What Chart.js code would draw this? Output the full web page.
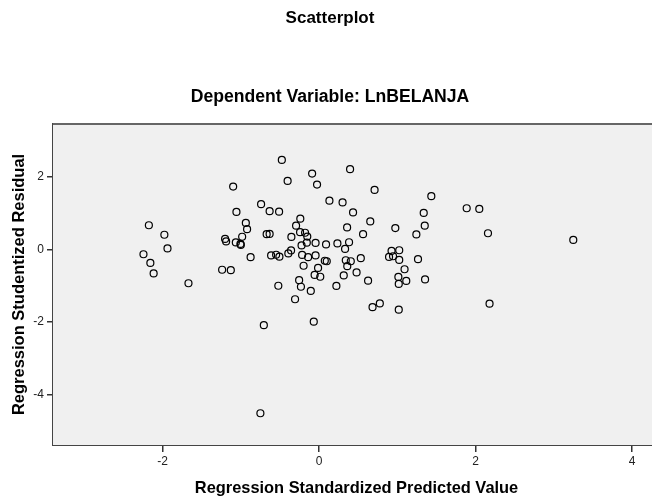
<!DOCTYPE html>
<html>
<head>
<meta charset="utf-8">
<script src="https://cdn.jsdelivr.net/npm/chart.js@4"></script>
<style>
  html, body { margin: 0; padding: 0; background: #ffffff; overflow: hidden; }
  #wrap { width: 660px; height: 499px; position: relative; }
  canvas { display: block; }
</style>
</head>
<body>
<div id="wrap"><canvas id="c" width="660" height="499"></canvas></div>
<script>
// Regression Standardized Predicted Value (x)
const predicted = [
  -0.476, -0.089, 0.396, -1.098, -0.402, -0.026, 0.709, 0.132, 0.300, -0.741,
  -0.632, -0.511, 0.434, -1.056, -0.240, -0.936, 0.654, -0.294, -0.920, 0.358,
  0.974, -0.243, -0.179, -0.670, -0.632, 0.562, 1.243, -0.983, -0.354, -0.151,
  -1.201, -1.188, -1.064, -1.005, -1.000, -0.045, 0.089, 0.234, 0.383, -0.224,
  -0.157, 0.332, -0.358, -0.393, -0.875, -0.613, -0.549, -0.507, -0.217, -0.140,
  -0.045, 0.073, 0.098, 0.341, 0.405, 0.533, 0.360, 0.926, 1.024, 0.894,
  0.945, 1.024, 1.264, -0.198, -0.013, 1.092, -1.239, -1.128, 0.479, -0.057,
  0.015, 0.315, 1.013, 1.018, 1.114, 0.626, -0.521, -0.255, -0.232, -0.106,
  0.221, -0.307, 0.683, 0.776, 1.018, -0.706, -0.068, -0.750, 2.178, 1.434,
  1.337, 1.350, 1.886, 2.047, 2.158, 3.248, 1.354, -2.175, -1.977, -1.937,
  -2.244, -2.156, -2.114, -1.669
];
// Regression Studentized Residual (y)
const residual = [
  2.461, 2.084, 2.205, 1.726, 1.883, 1.781, 1.635, 1.340, 1.291, 1.244,
  1.049, 1.035, 1.016, 1.029, 0.845, 0.727, 0.768, 0.652, 0.556, 0.603,
  0.584, 0.471, 0.457, 0.418, 0.424, 0.418, 0.410, 0.347, 0.341, 0.350,
  0.286, 0.217, 0.190, 0.149, 0.121, 0.176, 0.135, 0.162, 0.195, 0.107,
  0.184, 0.011, -0.030, -0.113, -0.217, -0.168, -0.149, -0.201, -0.154, -0.215,
  -0.168, -0.314, -0.328, -0.300, -0.328, -0.242, -0.462, -0.044, -0.025, -0.209,
  -0.190, -0.292, -0.270, -0.451, -0.512, -0.548, -0.562, -0.573, -0.636, -0.705,
  -0.754, -0.718, -0.760, -0.952, -0.870, -0.862, -1.002, -0.848, -1.029, -1.145,
  -1.007, -1.374, -1.591, -1.489, -1.660, -2.086, -1.990, -4.511, -1.495, 1.462,
  1.002, 0.652, 1.131, 1.112, 0.443, 0.259, -0.829, 0.663, 0.402, 0.025,
  -0.135, -0.374, -0.663, -0.933
];
const xTicks = [-2, 0, 2, 4];
const yTicks = [-4, -2, 0, 2];

const points = predicted.map((x, i) => ({ x: x, y: residual[i] }));

const FONT = "'Liberation Sans', Arial, Helvetica, sans-serif";

const plotFrame = {
  id: 'plotFrame',
  beforeDatasetsDraw(chart) {
    const { ctx, chartArea: a } = chart;
    ctx.save();
    ctx.fillStyle = '#f0f0f0';
    ctx.fillRect(a.left, a.top, a.right - a.left + 4, a.bottom - a.top);
    ctx.strokeStyle = '#666666';
    ctx.lineWidth = 2;
    ctx.beginPath();
    ctx.moveTo(a.left, a.top);
    ctx.lineTo(a.right + 4, a.top);
    ctx.stroke();
    ctx.restore();
  }
};

new Chart(document.getElementById('c'), {
  type: 'scatter',
  data: {
    datasets: [{
      data: points,
      pointRadius: 3.5,
      pointBorderWidth: 1.2,
      pointBorderColor: '#000000',
      pointBackgroundColor: 'rgba(0,0,0,0)',
      pointHoverRadius: 3.5
    }]
  },
  plugins: [plotFrame],
  options: {
    responsive: false,
    animation: false,
    devicePixelRatio: 1,
    layout: { padding: 0, autoPadding: false },
    plugins: {
      legend: { display: false },
      tooltip: { enabled: false },
      title: {
        display: true,
        text: 'Scatterplot',
        color: '#000000',
        font: { family: FONT, size: 17, weight: 'bold' },
        padding: { top: 8, bottom: 30 }
      },
      subtitle: {
        display: true,
        text: 'Dependent Variable: LnBELANJA',
        color: '#000000',
        font: { family: FONT, size: 17.6, weight: 'bold' },
        padding: { top: 28, bottom: 16.4 }
      }
    },
    scales: {
      x: {
        type: 'linear',
        min: -3.4,
        max: 4.356,
        afterBuildTicks(scale) { scale.ticks = xTicks.map(v => ({ value: v })); },
        afterFit(scale) { scale.height = 54; scale.paddingLeft = 0; scale.paddingRight = 0; },
        grid: { display: true, drawOnChartArea: false, drawTicks: true, tickLength: 7, tickColor: '#333333', color: '#333333', lineWidth: 1.5 },
        border: { display: true, color: '#444444', width: 2 },
        ticks: {
          color: '#222222',
          font: { family: FONT, size: 12 },
          padding: 2,
          maxRotation: 0,
          callback: (v) => String(v)
        },
        title: {
          display: true,
          text: 'Regression Standardized Predicted Value',
          color: '#000000',
          font: { family: FONT, size: 16.4, weight: 'bold' },
          padding: { top: 0, bottom: 1 }
        }
      },
      y: {
        type: 'linear',
        min: -5.384,
        max: 3.451,
        afterBuildTicks(scale) { scale.ticks = yTicks.map(v => ({ value: v })); },
        afterFit(scale) { scale.width = 53; },
        grid: { display: true, drawOnChartArea: false, drawTicks: true, tickLength: 6, tickColor: '#333333', color: '#333333', lineWidth: 1.5 },
        border: { display: true, color: '#444444', width: 2 },
        ticks: {
          color: '#222222',
          font: { family: FONT, size: 12 },
          padding: 3,
          callback: (v) => String(v)
        },
        title: {
          display: true,
          text: 'Regression Studentized Residual',
          color: '#000000',
          font: { family: FONT, size: 16.5, weight: 'bold' },
          padding: { top: 10, bottom: 0 }
        }
      }
    }
  }
});
</script>
</body>
</html>
